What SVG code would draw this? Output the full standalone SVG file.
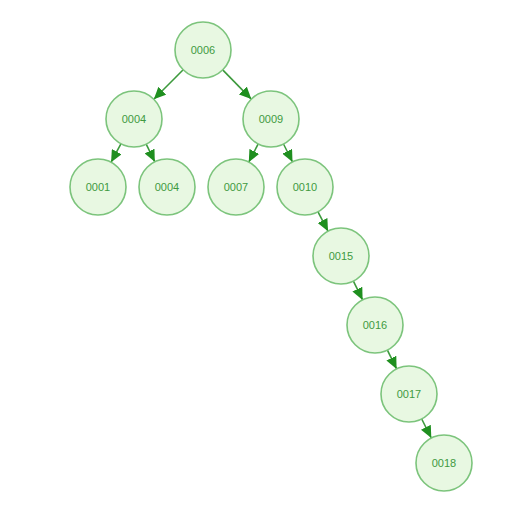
<svg xmlns="http://www.w3.org/2000/svg" width="506" height="525" viewBox="0 0 506 525">
<style>
.n circle{fill:#e8f8e2;stroke:#7cc47c;stroke-width:1.6}
.n text{font-family:"Liberation Sans",Arial,sans-serif;font-size:11px;fill:#3f9a3f;text-anchor:middle;dominant-baseline:central}
.e line{stroke:#3d9a3d;stroke-width:1.6;marker-end:url(#ah)}
</style>
<defs>
<marker id="ah" markerUnits="userSpaceOnUse" markerWidth="12" markerHeight="11" refX="12" refY="5.5" orient="auto">
<path d="M0,0 L12,5.5 L0,11 z" fill="#1f8f1f"/>
</marker>
</defs>
<rect width="506" height="525" fill="#ffffff"/>
<g id="connectors" class="e">
<line x1="183.2" y1="69.8" x2="153.8" y2="99.2"/>
<line x1="222.7" y1="69.9" x2="251.3" y2="99.1"/>
<line x1="120.9" y1="143.8" x2="111.1" y2="162.2"/>
<line x1="146.2" y1="144.2" x2="154.8" y2="161.8"/>
<line x1="258.2" y1="143.9" x2="248.8" y2="162.1"/>
<line x1="283.5" y1="144.0" x2="292.5" y2="162.0"/>
<line x1="318.0" y1="211.8" x2="328.0" y2="231.2"/>
<line x1="353.4" y1="281.1" x2="362.6" y2="299.9"/>
<line x1="387.4" y1="350.1" x2="396.6" y2="368.9"/>
<line x1="421.7" y1="419.0" x2="431.3" y2="438.0"/>
</g>
<g id="n0006" class="n"><circle cx="203" cy="50" r="28"/><text x="203" y="50">0006</text></g>
<g id="n0004a" class="n"><circle cx="134" cy="119" r="28"/><text x="134" y="119">0004</text></g>
<g id="n0009" class="n"><circle cx="271" cy="119" r="28"/><text x="271" y="119">0009</text></g>
<g id="n0001" class="n"><circle cx="98" cy="187" r="28"/><text x="98" y="187">0001</text></g>
<g id="n0004b" class="n"><circle cx="167" cy="187" r="28"/><text x="167" y="187">0004</text></g>
<g id="n0007" class="n"><circle cx="236" cy="187" r="28"/><text x="236" y="187">0007</text></g>
<g id="n0010" class="n"><circle cx="305" cy="187" r="28"/><text x="305" y="187">0010</text></g>
<g id="n0015" class="n"><circle cx="341" cy="256" r="28"/><text x="341" y="256">0015</text></g>
<g id="n0016" class="n"><circle cx="375" cy="325" r="28"/><text x="375" y="325">0016</text></g>
<g id="n0017" class="n"><circle cx="409" cy="394" r="28"/><text x="409" y="394">0017</text></g>
<g id="n0018" class="n"><circle cx="444" cy="463" r="28"/><text x="444" y="463">0018</text></g>
</svg>
